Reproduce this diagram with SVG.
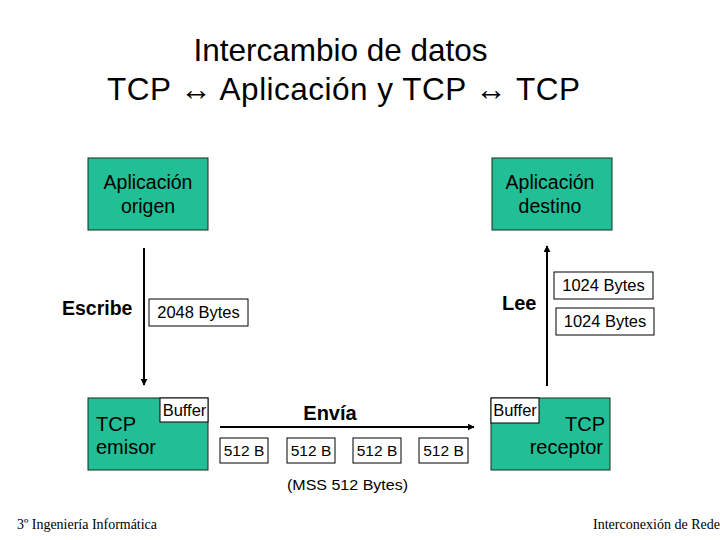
<svg xmlns="http://www.w3.org/2000/svg" width="720" height="540" viewBox="0 0 720 540">
<defs>
<style>
.t{font-family:"Liberation Sans",Arial,sans-serif;fill:#000}
.node{fill:#22BF96;stroke:#1a2a1a;stroke-width:1}
.lbl{fill:#fff;stroke:#000;stroke-width:1}
.ln{stroke:#000;stroke-width:2;fill:none}
.serif{font-family:"Liberation Serif","Times New Roman",serif;fill:#000}
</style>
<marker id="ah" viewBox="0 0 10 10" refX="9" refY="5" markerWidth="3.5" markerHeight="3.5" orient="auto">
<path d="M0,0 L10,5 L0,10 z" fill="#000"/>
</marker>
</defs>
<rect width="720" height="540" fill="#fff"/>
<g id="title">
<text class="t" x="340.5" y="61" font-size="31.5" text-anchor="middle">Intercambio de datos</text>
<text class="t" x="107" y="100" font-size="31.5" textLength="473" lengthAdjust="spacing">TCP ↔ Aplicación y TCP ↔ TCP</text>
</g>
<g id="app-origen">
<rect class="node" x="88" y="158" width="120" height="72"/>
<text class="t" x="148" y="189" font-size="19.5" text-anchor="middle">Aplicación</text>
<text class="t" x="148" y="213" font-size="19.5" text-anchor="middle">origen</text>
</g>
<g id="app-destino">
<rect class="node" x="492" y="158" width="120" height="72"/>
<text class="t" x="550" y="189" font-size="19.5" text-anchor="middle">Aplicación</text>
<text class="t" x="550" y="213" font-size="19.5" text-anchor="middle">destino</text>
</g>
<g id="tcp-emisor">
<rect class="node" x="88" y="398" width="120" height="72"/>
<rect class="lbl" x="160" y="398" width="48" height="24"/>
<text class="t" x="184.5" y="416" font-size="16.5" text-anchor="middle">Buffer</text>
<text class="t" x="96" y="431" font-size="20">TCP</text>
<text class="t" x="96" y="454" font-size="20">emisor</text>
</g>
<g id="tcp-receptor">
<rect class="node" x="491" y="398" width="119" height="72"/>
<rect class="lbl" x="491" y="398" width="48" height="25"/>
<text class="t" x="515" y="416" font-size="16.5" text-anchor="middle">Buffer</text>
<text class="t" x="585" y="431" font-size="20" text-anchor="middle">TCP</text>
<text class="t" x="603" y="454" font-size="20" text-anchor="end">receptor</text>
</g>
<g id="connectors">
<line class="ln" x1="144" y1="248" x2="144" y2="385" marker-end="url(#ah)"/>
<line class="ln" x1="547" y1="386" x2="547" y2="246" marker-end="url(#ah)"/>
<line class="ln" x1="220" y1="427" x2="474" y2="427" marker-end="url(#ah)"/>
</g>
<g id="labels">
<text class="t" x="62" y="315" font-size="19.5" font-weight="bold">Escribe</text>
<rect class="lbl" x="149" y="299" width="99" height="27"/>
<text class="t" x="198.5" y="318" font-size="16.5" text-anchor="middle">2048 Bytes</text>
<text class="t" x="502" y="310" font-size="20" font-weight="bold">Lee</text>
<rect class="lbl" x="554" y="272" width="99" height="27"/>
<text class="t" x="603.5" y="291" font-size="16.5" text-anchor="middle">1024 Bytes</text>
<rect class="lbl" x="556" y="308" width="98" height="27"/>
<text class="t" x="605" y="327" font-size="16.5" text-anchor="middle">1024 Bytes</text>
<text class="t" x="330" y="420" font-size="20" font-weight="bold" text-anchor="middle">Envía</text>
<rect class="lbl" x="220" y="438" width="48" height="25"/>
<text class="t" x="244" y="456" font-size="15.5" text-anchor="middle">512 B</text>
<rect class="lbl" x="287" y="438" width="48" height="25"/>
<text class="t" x="311" y="456" font-size="15.5" text-anchor="middle">512 B</text>
<rect class="lbl" x="353" y="438" width="48" height="25"/>
<text class="t" x="377" y="456" font-size="15.5" text-anchor="middle">512 B</text>
<rect class="lbl" x="419" y="438" width="49" height="25"/>
<text class="t" x="443.5" y="456" font-size="15.5" text-anchor="middle">512 B</text>
<text class="t" x="287" y="490" font-size="15" textLength="121" lengthAdjust="spacingAndGlyphs">(MSS 512 Bytes)</text>
</g>
<g id="footer">
<text class="serif" x="17" y="529" font-size="14" textLength="140" lengthAdjust="spacingAndGlyphs">3º Ingeniería Informática</text>
<text class="serif" x="593" y="529" font-size="14" textLength="127" lengthAdjust="spacingAndGlyphs">Interconexión de Rede</text>
</g>
</svg>
